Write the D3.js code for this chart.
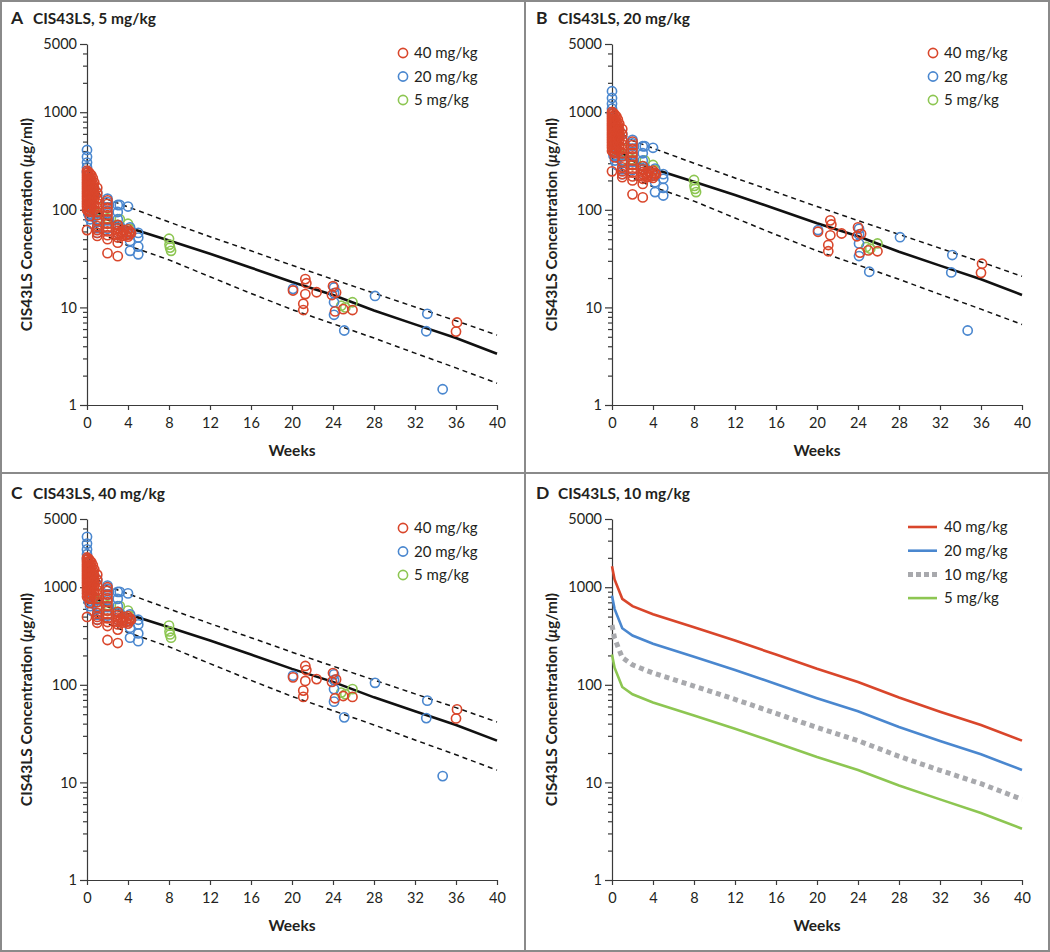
<!DOCTYPE html>
<html><head><meta charset="utf-8">
<script src="https://cdn.jsdelivr.net/npm/d3@7"></script>
<style>
body{margin:0;background:#fff;}
svg{display:block;font-family:Lato,"Open Sans",sans-serif;}
</style></head><body>
<svg id="chart" width="1050" height="952"></svg>
<script>
// ---------- DATA ----------
const weekTicks = [0,4,8,12,16,20,24,28,32,36,40];
const yMajorTicks = [1,10,100,1000,5000];
const yMinorTicks = [2,3,4,5,6,7,8,9,20,30,40,50,60,70,80,90,200,300,400,500,600,700,800,900,2000,3000,4000];

const doseGroups = ["40 mg/kg","20 mg/kg","5 mg/kg"];
const curveLabels = ["40 mg/kg","20 mg/kg","10 mg/kg","5 mg/kg"];

// model time grid (weeks)
const modelWeeks = [0,0.25,1,2,4,8,12,16,20,24,28,32,36,40];
// panel D: model-predicted median concentration by dose (ug/ml)
const curve40 = [1640,1200,760,640,528,388,284,204,146,107,74,53,38.8,26.8];
const curve20 = [820,600,380,320,264,194,142,102,73,53.5,37,26.5,19.4,13.4];
const curve10 = [410,300,190,160,132,97,71,51,36.5,26.8,18.5,13.3,9.7,6.7];
const curve5  = [205,150,95,80,66,48.5,35.5,25.5,18.2,13.4,9.3,6.7,4.85,3.35];

// panels A-C: prediction band, concentration per 5 mg/kg dose
const medianPer5 = [205,150,95,80,66,48.5,35.5,25.5,18.2,13.4,9.3,6.7,4.85,3.35];
const upperPer5  = [330,240,150,128,107,75,53,38,27,19.4,14,10.1,7.3,5.2];
const lowerPer5  = [125,95,63,53,43,30.7,20.6,13.9,9.5,6.8,4.85,3.4,2.4,1.67];

// observed concentrations, dose-normalized to 5 mg/kg: [week, ug/ml]
const obs40 = [
 [0,252],[0,238],[0,226],[0,214],[0,203],[0,192],[0,182],[0,172],[0,163],[0,154],[0,146],[0,138],[0,130],[0,122],[0,115],[0,108],[0,100],[0,62],
 [0.14,245],[0.14,225],[0.14,205],[0.14,188],[0.14,172],[0.14,157],[0.14,143],[0.14,130],[0.14,118],[0.14,107],[0.14,97],
 [0.28,235],[0.28,212],[0.28,192],[0.28,174],[0.28,158],[0.28,143],[0.28,130],[0.28,118],[0.28,106],[0.28,95],[0.28,86],
 [0.43,225],[0.43,200],[0.43,178],[0.43,160],[0.43,145],[0.43,131],[0.43,118],[0.43,106],
 [0.57,210],[0.57,185],[0.57,165],[0.57,147],[0.57,132],[0.57,118],
 [0.71,190],[0.71,165],[0.71,145],[0.71,128],[0.71,112],[0.71,100],
 [1,168],[1,148],[1,130],[1,117],[1,105],[1,95],[1,88],[1,78],[1,68],[1,62],[1,58],[1,54],
 [2,125],[2,115],[2,105],[2,96],[2,88],[2,80],[2,72],[2,66],[2,60],[2,55],[2,50],[2,36],
 [3,70],[3,65],[3,61],[3,58],[3,55],[3,52],[3,46],[3,33.5],
 [3.3,60],[3.4,54],[3.5,57],[3.6,62],[3.8,55],[3.9,59],[4.0,63],[4.0,53],[4.1,56],[4.2,60],[4.3,58],
 [20.1,14.9],[21.1,10.9],[21.1,9.4],[21.3,19.5],[21.4,17.7],[21.3,13.7],[22.4,14.3],
 [23.9,13.4],[24.0,16.5],[24.3,14.2],[24.2,9.1],[25.0,9.6],[25.9,9.4],[36.1,7.0],[36.0,5.65]
];
const obs20 = [
 [0,410],[0,350],[0,305],[0,272],[0,245],[0.15,90],[0.3,80],[0.45,72],[0.6,85],[0.2,100],
 [1,150],[1,130],[1,95],[1,75],[1,65],[1,58],
 [2,130],[2,120],[2,105],[2,92],[2,78],[2,64],
 [3,112],[3,95],[3,80],[3.2,112],[3.2,68],[3,58],
 [4,108],[4.2,66],[4.2,56],[4.2,48],[4.2,38],
 [5,58],[5,52],[5,42],[5,35],
 [20.1,15.5],[24.1,16],[24.1,14],[24.1,11.3],[24.1,8.4],[25.1,5.8],[28.1,13.1],[33.2,8.6],[33.1,5.7],[34.7,1.45]
];
const obs5 = [
 [0.5,98],[1,108],[1,92],[1,80],[2,82],[2,72],[3.2,80],[3,70],[4,72],[4.2,64],
 [8,50.5],[8.05,44],[8.1,41],[8.2,38],
 [24.8,10.4],[25.2,10.0],[25.9,11.3]
];

// ---------- STYLE / LAYOUT ----------
const colors = {"40 mg/kg":"#d9462b","20 mg/kg":"#4a87cf","10 mg/kg":"#a8a9ad","5 mg/kg":"#8dc652"};
const textColor = "#231f20";
const axisColor = "#3a3a3a";
const L = 87, R = 497, T = 44, B = 405;

const panels = [
  {letter:"A", title:"CIS43LS, 5 mg/kg",  dose:5,  ox:0,   oy:0,   legendX:403, kind:"obs"},
  {letter:"B", title:"CIS43LS, 20 mg/kg", dose:20, ox:525, oy:0,   legendX:408, kind:"obs"},
  {letter:"C", title:"CIS43LS, 40 mg/kg", dose:40, ox:0,   oy:475, legendX:403, kind:"obs"},
  {letter:"D", title:"CIS43LS, 10 mg/kg", dose:10, ox:525, oy:475, legendX:383, kind:"model"}
];

const svg = d3.select("#chart");
svg.append("rect").attr("width",1050).attr("height",952).attr("fill","#fff");

const x = d3.scaleLinear().domain([0,40]).range([L,R]);
const y = d3.scaleLog().domain([1,5000]).range([B,T]);
const line = d3.line().x(d=>x(d[0])).y(d=>y(d[1]));

panels.forEach(p=>{
  const g = svg.append("g").attr("transform",`translate(${p.ox},${p.oy})`);

  // titles
  g.append("text").attr("x",11).attr("y",24).attr("font-size",17.5).attr("font-weight",700)
    .attr("fill",textColor).text(p.letter);
  g.append("text").attr("x",33).attr("y",24).attr("font-size",15.5).attr("font-weight",700)
    .attr("fill",textColor).text(p.title);

  // axes
  const yMinor = g.append("g").attr("transform",`translate(${L},0)`)
    .call(d3.axisLeft(y).tickValues(yMinorTicks).tickSize(4).tickFormat(""));
  const yAx = g.append("g").attr("transform",`translate(${L},0)`)
    .call(d3.axisLeft(y).tickValues(yMajorTicks).tickSize(7).tickSizeOuter(0).tickPadding(3).tickFormat(d3.format("d")));
  const xAx = g.append("g").attr("transform",`translate(0,${B})`)
    .call(d3.axisBottom(x).tickValues(weekTicks).tickSize(5).tickSizeOuter(0).tickPadding(8));
  yMinor.select(".domain").remove();
  [yMinor,yAx,xAx].forEach(a=>{
    a.selectAll("path,line").attr("stroke",axisColor).attr("stroke-width",1.2);
    a.selectAll("text").attr("fill",textColor).attr("font-size",14.5).attr("font-family","Lato, sans-serif");
  });

  // axis titles
  g.append("text").attr("x",(L+R)/2).attr("y",456).attr("text-anchor","middle")
    .attr("font-size",15.5).attr("font-weight",700).attr("fill",textColor).text("Weeks");
  const yl = g.append("text").attr("transform",`translate(32,${(T+B)/2}) rotate(-90)`)
    .attr("text-anchor","middle").attr("font-size",15.5).attr("font-weight",700).attr("fill",textColor);
  yl.append("tspan").text("CIS43LS Concentration (");
  yl.append("tspan").attr("font-style","italic").text("\u03bc");
  yl.append("tspan").text("g/ml)");

  if (p.kind === "obs") {
    const f = p.dose/5;
    const band = [[medianPer5,"none",2.6],[upperPer5,"5,4",1.5],[lowerPer5,"5,4",1.5]];
    band.forEach(([arr,dash,w])=>{
      g.append("path").datum(modelWeeks.map((wk,i)=>[wk,arr[i]*f]))
        .attr("d",line).attr("fill","none").attr("stroke","#111")
        .attr("stroke-width",w).attr("stroke-dasharray",dash);
    });
    const sets = [["5 mg/kg",obs5],["20 mg/kg",obs20],["40 mg/kg",obs40]];
    sets.forEach(([grp,arr])=>{
      g.append("g").selectAll("circle").data(arr).join("circle")
        .attr("cx",d=>x(d[0])).attr("cy",d=>y(d[1]*f)).attr("r",4.6)
        .attr("fill","none").attr("stroke",colors[grp]).attr("stroke-width",1.6);
    });
    // legend
    doseGroups.forEach((grp,i)=>{
      const ly = 53 + i*23.5;
      g.append("circle").attr("cx",p.legendX).attr("cy",ly).attr("r",4.6)
        .attr("fill","none").attr("stroke",colors[grp]).attr("stroke-width",1.6);
      g.append("text").attr("x",p.legendX+11).attr("y",ly).attr("dy","0.35em")
        .attr("font-size",15).attr("fill",textColor).text(grp);
    });
  } else {
    const curves = [["40 mg/kg",curve40],["20 mg/kg",curve20],["10 mg/kg",curve10],["5 mg/kg",curve5]];
    curves.forEach(([grp,arr])=>{
      const dotted = grp==="10 mg/kg";
      g.append("path").datum(modelWeeks.map((wk,i)=>[wk,arr[i]]))
        .attr("d",line).attr("fill","none").attr("stroke",colors[grp])
        .attr("stroke-width",dotted?5:2.6).attr("stroke-dasharray",dotted?"5,4":"none");
    });
    curveLabels.forEach((grp,i)=>{
      const ly = 52 + i*23.7;
      const dotted = grp==="10 mg/kg";
      g.append("line").attr("x1",p.legendX).attr("x2",p.legendX+29).attr("y1",ly).attr("y2",ly)
        .attr("stroke",colors[grp]).attr("stroke-width",dotted?5:2.6)
        .attr("stroke-dasharray",dotted?"5,3":"none");
      g.append("text").attr("x",p.legendX+36).attr("y",ly).attr("dy","0.35em")
        .attr("font-size",15).attr("fill",textColor).text(grp);
    });
  }
});

// frame
svg.append("rect").attr("x",1).attr("y",1).attr("width",1048).attr("height",950)
  .attr("fill","none").attr("stroke","#8a8a8a").attr("stroke-width",2);
svg.append("line").attr("x1",525).attr("x2",525).attr("y1",0).attr("y2",952)
  .attr("stroke","#8a8a8a").attr("stroke-width",2);
svg.append("line").attr("x1",0).attr("x2",1050).attr("y1",473).attr("y2",473)
  .attr("stroke","#8a8a8a").attr("stroke-width",2);
</script>
</body></html>
